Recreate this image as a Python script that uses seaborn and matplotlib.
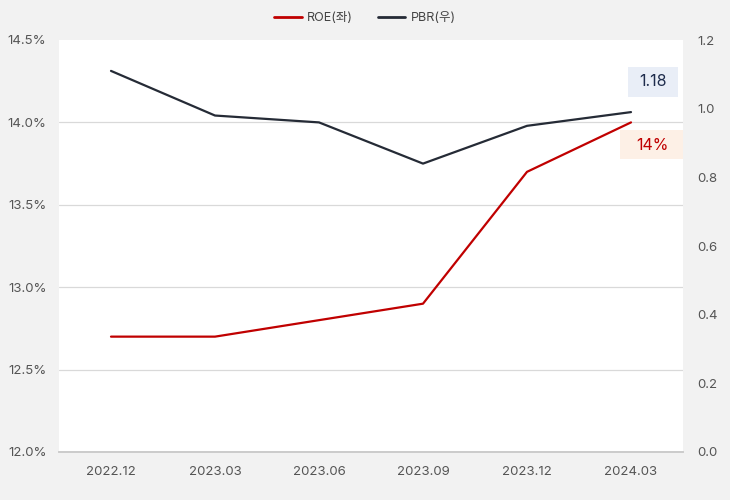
import matplotlib
matplotlib.use("Agg")
import matplotlib.pyplot as plt
import seaborn as sns
import pandas as pd
from matplotlib.lines import Line2D
from matplotlib.patches import Rectangle

periods = ["2022.12", "2023.03", "2023.06", "2023.09", "2023.12", "2024.03"]
roe = [12.7, 12.7, 12.8, 12.9, 13.7, 14.0]
pbr = [1.11, 0.98, 0.96, 0.84, 0.95, 0.99]
roe_label = "14%"
pbr_label = "1.18"
left_ticks = [12.0, 12.5, 13.0, 13.5, 14.0, 14.5]
right_ticks = [0.0, 0.2, 0.4, 0.6, 0.8, 1.0, 1.2]

sns.set_theme(style="white")
plt.rcParams['font.family'] = ['Inter', 'Noto Sans CJK KR', 'DejaVu Sans']

df = pd.DataFrame({"period": periods, "roe": roe, "pbr": pbr, "x": range(len(periods))})

red = "#c00000"
navy = "#252b36"
tick_color = "#555555"

W, H = 730, 500
fig = plt.figure(figsize=(7.3, 5.0), dpi=100, facecolor="#f2f2f2")
ax = fig.add_axes([59/W, 48/H, 624/W, 412/H])
ax.set_facecolor("white")
ax2 = ax.twinx()

sns.lineplot(data=df, x="x", y="roe", ax=ax, color=red, linewidth=1.6, legend=False)
sns.lineplot(data=df, x="x", y="pbr", ax=ax2, color=navy, linewidth=1.6, legend=False)

ax.set_xlim(-0.5, len(periods) - 0.5)
ax.set_ylim(12.0, 14.5)
ax.set_yticks(left_ticks)
ax.set_yticklabels([f"{t:.1f}%" for t in left_ticks])
ax2.set_ylim(0.0, 1.2)
ax2.set_yticks(right_ticks)
ax2.set_yticklabels([f"{t:.1f}" for t in right_ticks])
ax.set_xticks(range(len(periods)))
ax.set_xticklabels(periods)
ax.set_xlabel("")
ax.set_ylabel("")
ax2.set_ylabel("")

for t in left_ticks[1:-1]:
    ax.axhline(t, color="#d9d9d9", linewidth=0.9, zorder=0)

for a in (ax, ax2):
    for s in ("top", "left", "right"):
        a.spines[s].set_visible(False)
    a.spines["bottom"].set_color("#cccccc")
    a.tick_params(axis="both", length=0, labelsize=9.5, colors=tick_color)
ax.tick_params(axis="x", pad=10)
ax.tick_params(axis="y", pad=9)
ax2.tick_params(axis="y", pad=10)
ax2.grid(False)
ax.grid(False)

# annotation boxes (figure pixel layout)
fig.patches.append(Rectangle((628/W, (H-97)/H), 50/W, 30/H, transform=fig.transFigure,
                             facecolor="#e9eef7", edgecolor="none", zorder=5))
fig.patches.append(Rectangle((620/W, (H-159)/H), 63/W, 29/H, transform=fig.transFigure,
                             facecolor="#fdf0e6", edgecolor="none", zorder=5))
fig.text(653/W, (H-82)/H, pbr_label, ha="center", va="center", fontsize=11.5,
         color="#1f2d4d", zorder=6)
fig.text(652/W, (H-145)/H, roe_label, ha="center", va="center", fontsize=11.5,
         color=red, zorder=6)

handles = [Line2D([0], [0], color=red, lw=2), Line2D([0], [0], color=navy, lw=2)]
fig.legend(handles, ["ROE(좌)", "PBR(우)"], loc="center", bbox_to_anchor=(0.5, 1 - 18/H),
           ncol=2, frameon=False, fontsize=9, handlelength=2.2, columnspacing=2.0,
           handletextpad=0.4, labelcolor="#444444")

fig.savefig("out.png", dpi=100, facecolor=fig.get_facecolor())
